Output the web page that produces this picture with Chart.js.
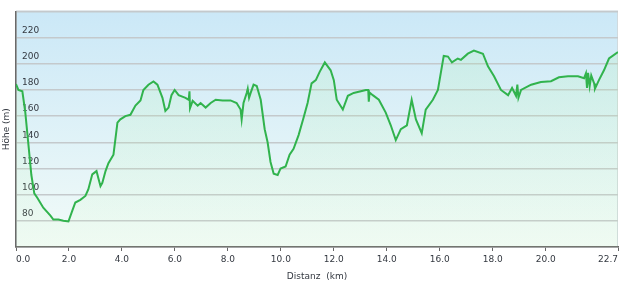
<!DOCTYPE html>
<html><head><meta charset="utf-8">
<style>html,body{margin:0;padding:0;background:#fff;overflow:hidden}</style>
<script src="https://cdn.jsdelivr.net/npm/chart.js@4/dist/chart.umd.min.js"></script>
</head><body>
<canvas id="c" width="623" height="284" style="display:block;width:623px;height:284px"></canvas>
<script>
const distKm = [0.00,0.09,0.24,0.35,0.47,0.58,0.69,0.81,1.03,1.30,1.41,1.60,1.79,1.98,2.13,2.24,2.43,2.62,2.73,2.88,
  3.04,3.11,3.19,3.26,3.38,3.49,3.68,3.83,3.94,4.13,4.32,4.51,4.70,4.81,5.00,5.19,5.34,5.53,5.64,5.76,
  5.87,5.99,6.14,6.40,6.52,6.55,6.57,6.67,6.86,6.97,7.16,7.35,7.54,7.80,8.10,8.33,8.48,8.52,8.59,8.71,
  8.75,8.80,8.86,8.97,9.09,9.24,9.39,9.50,9.61,9.73,9.88,9.99,10.18,10.33,10.48,10.67,10.86,11.01,11.16,11.32,
  11.47,11.66,11.88,12.00,12.11,12.34,12.53,12.75,13.21,13.30,13.32,13.35,13.47,13.70,13.96,14.15,14.34,14.53,14.76,14.94,
  15.10,15.32,15.47,15.74,15.93,16.15,16.31,16.46,16.68,16.80,17.06,17.29,17.63,17.82,18.05,18.31,18.58,18.73,18.88,18.93,
  18.97,19.07,19.45,19.82,20.20,20.50,20.84,21.22,21.45,21.52,21.56,21.60,21.66,21.72,21.83,21.86,22.01,22.20,22.39,22.73];
const elevM = [184.5,180,179,163,138,115,101,97.5,90,84,81,81,80,79.5,88,94,96,99,104,115.5,
  118,112.5,106.5,109,118,124,130.5,155,157.5,160,161,168,172,180,184,186.5,184,174,164,166.5,
  176,180,176,174,172.5,179,166,171.7,168,170,166.5,170,172.5,172,172,170,165,157.5,170,177.7,
  181,174,177.7,184,183,172.5,150,140,125,116,115,120,121.5,130.5,135,145.5,159,170,185,187.5,
  194,201,195,187.5,172.5,165,175.5,177.7,180,180,171,178,176,172.5,162.7,153,141.7,150,153,172.5,
  157.5,147,165,172.5,180,206,205.5,201,204,203,207.7,210,207.7,198,190.5,180,176,181.5,175.5,184,
  174,180,184,186,186.7,189.7,190.5,190.5,189,192.7,181.5,193,183,191,185,181,187.5,195,204,209];
const yTickValues = [80,100,120,140,160,180,200,220];
const xTickValues = [0,2,4,6,8,10,12,14,16,18,20,22.73];
const xTickLabels = ['0.0','2.0','4.0','6.0','8.0','10.0','12.0','14.0','16.0','18.0','20.0','22.7'];

const FONT = {family:'DejaVu Sans', size:9};
const TXT = '#333840';

const bgPlugin = {
  id:'plotBg',
  beforeDraw(chart){
    const {ctx, chartArea:a} = chart;
    const g = ctx.createLinearGradient(0,a.top,0,a.bottom);
    g.addColorStop(0,'#cbe8f7');
    g.addColorStop(1,'#f2fbf8');
    ctx.save();
    ctx.fillStyle = g;
    ctx.fillRect(a.left,a.top,a.right-a.left,a.bottom-a.top);
    ctx.strokeStyle = '#d0dade';
    ctx.lineWidth = 1;
    ctx.strokeRect(a.left+0.5,a.top-0.5,a.right-a.left-1,a.bottom-a.top);
    ctx.restore();
  }
};

new Chart(document.getElementById('c'), {
  type:'line',
  data:{
    datasets:[{
      data: distKm.map((d,i)=>({x:d,y:elevM[i]})),
      borderColor:'#31b34d',
      borderWidth:2,
      pointRadius:0,
      tension:0,
      fill:'start',
      backgroundColor:(c)=>{
        const a = c.chart.chartArea;
        if(!a) return 'rgba(200,255,140,0.12)';
        const g = c.chart.ctx.createLinearGradient(0,a.top,0,a.bottom);
        g.addColorStop(0,'rgba(150,240,150,0.17)');
        g.addColorStop(1,'rgba(210,255,170,0.08)');
        return g;
      }
    }]
  },
  options:{
    responsive:false,
    animation:false,
    devicePixelRatio:1,
    layout:{padding:{left:0,right:5,top:6,bottom:0}},
    plugins:{legend:{display:false},tooltip:{enabled:false}},
    scales:{
      x:{
        type:'linear', min:0, max:22.73,
        afterBuildTicks:(s)=>{ s.ticks = xTickValues.map(v=>({value:v})); },
        ticks:{align:'inner', autoSkip:false, maxRotation:0, padding:3, color:TXT, font:FONT,
          callback:(v,i)=>xTickLabels[i]},
        grid:{drawOnChartArea:false, drawTicks:true, tickLength:4, color:'#666', lineWidth:1},
        border:{display:true, color:'#6a6a6a', width:1.5},
        title:{display:true, text:'Distanz  (km)', color:TXT, font:FONT, padding:{top:0,bottom:2}},
        afterFit:(s)=>{ s.height = 37; }
      },
      y:{
        min:60, max:240,
        afterBuildTicks:(s)=>{ s.ticks = [60].concat(yTickValues,[240]).map(v=>({value:v})); },
        ticks:{mirror:true, padding:6, labelOffset:-7, color:TXT, font:FONT,
          callback:(v)=> yTickValues.includes(v) ? String(v) : ''},
        grid:{color:'#c4c9cc', lineWidth:1.5, drawTicks:false},
        border:{display:true, color:'#6a6a6a', width:1.5},
        title:{display:true, text:'Höhe (m)', color:TXT, font:FONT, padding:{top:1.5,bottom:0}},
        afterFit:(s)=>{ s.width = 16; }
      }
    }
  },
  plugins:[bgPlugin]
});
</script>
</body></html>
